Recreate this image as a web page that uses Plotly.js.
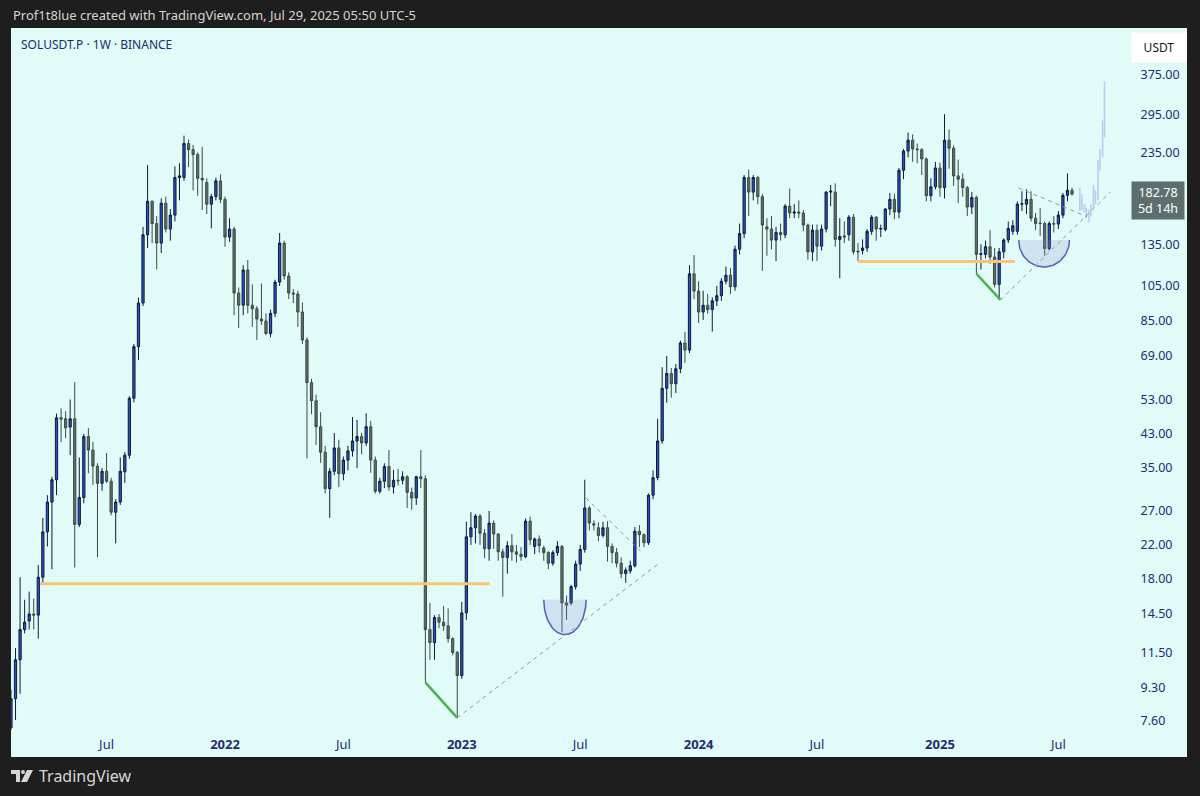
<!DOCTYPE html>
<html><head><meta charset="utf-8">
<script src="https://cdn.plot.ly/plotly-3.0.1.min.js"></script>
<style>
html,body{margin:0;padding:0;background:#1e1e1e;width:1200px;height:796px;overflow:hidden;}
#panel{position:absolute;left:11px;top:28px;width:1176px;height:729px;background:#e0fbf8;}
#chart{position:absolute;left:0;top:0;width:1200px;height:796px;}
#logo{position:absolute;left:11px;top:768px;}
</style></head><body>
<div id="panel"></div>
<div id="chart"></div>
<svg id="logo" width="24" height="16" viewBox="0 0 24 16">
  <path d="M0 2 H9 V14 H5 V6 H0 Z" fill="#d6d6d6"/>
  <circle cx="12" cy="4" r="2" fill="#d6d6d6"/>
  <path d="M16 2 H22 L16 14 H10 Z" fill="#d6d6d6"/>
</svg>
<script>
// ---------- weekly OHLC (SOLUSDT.P, 1W) ----------
const firstWeek = '2021-02-08';
const openP = [
 7.3,8.7,11.0,13.2,13.9,14.5,14.4,18.1,23.8,28.5,
 32.6,47.4,47.1,44.8,47.1,24.9,29.3,42.3,39.0,35.4,
 31.9,34.3,32.3,26.8,28.5,34.2,37.8,53.3,72.8,94.7,
 143,175,153,136,173,148,161,202,202,248,
 239,232,201,196,172,180,198,177,141,148,
 100.6,93.5,115.6,93.5,91.5,86,85,78.8,89,107.5,
 136,111.5,100.6,100,89.7,75.8,58.6,52.5,44.9,38.5,
 30.9,34.3,39.5,33.8,36.7,38.8,41.2,42.3,40.7,44.9,
 36.7,30.4,32.3,35.3,31.2,32.5,32.5,33.2,30.2,29.2,
 33.2,32.8,13.2,12.2,14.2,13.8,13.5,12.5,11.5,10.0,
 14.6,23.1,24.4,26.2,23.6,21.5,25.1,23.5,21.1,20.4,
 21.9,21.1,20.8,20.5,25.4,21.8,22.8,21.6,21.0,19.7,
 21.0,21.8,15.5,15.5,17.1,19.6,21.4,27.5,25.0,24.4,
 23.3,24.4,21.8,21.0,19.7,18.5,18.8,19.4,23.9,23.4,
 22.3,29.7,33,41.2,56.6,61.9,58.2,63.7,74.4,71.3,
 113,101.8,89.7,93.4,91,96,99,108,112,104.5,
 131,144,202,185,202,180,150,148,138.5,145,
 143,170,163,164,163,151.6,129,147,133.5,148,
 185,185,139,142,143,159,129.5,130,132,146,
 159,148,147.5,167,177,164,211,237,253,240,
 239,226,181,191,214,190,253,241,204,200,
 190,169,179,127,127,133,125,106,129,138.5,
 146,146,172,172,177,158,153.5,153,131.6,153,
 152.5,161,181.4,187
];
const highP = [
 9.2,11.8,18.1,15.8,16.6,15.9,19.5,25.9,29.7,33.2,
 48.6,50.2,49.3,52.9,58.8,37.3,43.0,44.5,41.0,36.0,
 35.0,38.3,33.0,29.0,37.3,38.5,54.0,74.0,97.8,150,
 218,176,160,178,180,167,216,220,260,254,
 246,235,243,201,183,202,206,180,158,150,
 104,119,122.8,106,93,106.5,89,91,109,144.5,
 138,114,103,102,95,77,60,54.5,49,40,
 35,43.2,41.5,37.5,40,47.6,46.8,43.3,48.7,46.5,
 37.5,33,36,39,34.6,34.8,34.3,33.5,31.1,33.4,
 39,33.5,15.5,14.4,14.5,15.2,15,12.6,11.6,15.6,
 25.3,26.8,26.5,26.5,24.2,27.0,25.5,23.6,21.5,22.5,
 23.5,22,21.7,25.8,26.1,23,23.3,21.9,21.2,21.3,
 22.5,22,16.2,17.3,20,22,32.6,27.8,25.5,25.2,
 25.3,25.4,22.2,21.6,20.4,19.2,20,24.5,24.8,23.6,
 30,34.5,47.1,64.3,68.8,64,65.5,75.5,79.6,119,
 126.5,108,102,100,98,105,110,118,117,134,
 153,205,212,205,204,183,158,160,150,153,
 172,189,172,176,166,153,152,152,152,186,
 193,195,158,155,161,162,136,139,148,161,
 160,152,168,184,183,214,240,265,262,248,
 241,228,201,222,221,296,270,245,225,207,
 192,185,181,135,138,147,132,132,140,155,
 156,175,186,188,186,163,168,155,155,160,
 165,184,207,190
];
const lowP = [
 7.0,7.65,8.96,12.9,13.2,13.2,12.5,17.5,21.8,19.0,
 29.7,40.9,41.9,37.8,19.2,24.5,28.3,33.9,31.6,20.4,
 30.5,32.0,26.3,22.2,28.0,32.0,37.0,52.0,67.1,93.0,
 132,136,116,128,145,138,155,176,198,215,
 187,181,166,162,148.6,176,173,133,137,88,
 81.5,88,89,82,75.8,83,78,77,87,105,
 109,97,94.7,82,74,37.1,48.4,40.2,36.1,30,
 25.9,33.5,31.2,32.5,34.5,37.5,35,38,40,34,
 30,30,31,30.5,30,31.5,31.7,27.5,27.2,28,
 31,9.6,11,11,13.3,13.1,12.2,11.3,7.75,9.8,
 14,22,22.2,22,20.3,20,21.5,20,16.1,18.5,
 20,19.8,20,20.3,22,20.8,21,20,19,19.4,
 20.6,13.0,14,15.3,16.8,18.8,21,24,24,22.5,
 23,19.9,19.7,19.2,18.0,17.5,18.5,19.2,21.7,21.7,
 22,29,32.5,40.5,51.9,53.5,55,62,66,70,
 97,84,85.5,88.8,79.7,93,96,106,100,102,
 127,140,160,176,172,115,126,131,122,138,
 140,158,158,158,146,123,122,122,130,145,
 170,133,110,136,138,127,122,127,129,143,
 138,141,146,161,157,158,200,228,222,220,
 205,175,175,188,180,178,213,192,173,180,
 160,162,113,116,124,120,104,96.5,124,136,
 143,143,165,162,155,147,142,126,130,145,
 148,158,175,181
];
const closeP = [
 8.7,11.0,13.2,13.8,14.5,14.4,18.1,23.8,28.5,32.6,
 47.4,47.0,44.6,47.1,24.9,29.3,42.3,39.0,35.4,31.9,
 34.3,32.3,26.8,28.5,34.3,37.8,53.3,72.8,94.7,143,
 175,153,136,173,148,161,202,204,248,239,
 232,201,199,172,180,198,177,141,148,100.6,
 93.5,115.6,93.5,91.5,86,85,78.8,89,107.5,136,
 111.5,100.6,100,89.7,75.8,58.6,52.5,44.9,38.5,30.9,
 34.3,39.5,33.8,36.7,38.8,41.2,42.3,40.7,44.9,36.7,
 30.4,32.3,35.3,31.2,32.5,32.4,33.2,30.2,29.2,33.2,
 32.8,13.2,12.2,14.2,13.8,13.5,12.5,11.5,10.0,14.6,
 23.1,24.4,26.2,23.6,21.5,25.1,23.5,21.1,20.4,21.9,
 21.1,20.8,20.5,25.4,22.7,22.8,21.9,21.0,19.7,21.0,
 21.8,15.5,15.3,17.1,19.6,21.4,27.5,25.1,24.8,23.3,
 24.4,21.8,21.0,19.7,18.5,18.9,19.4,23.9,23.4,22.3,
 29.7,33,41.2,56.6,61.9,58.2,63.7,74.4,71.3,113,
 101.8,89.7,93.4,91,96,99,108,112,104.5,131,
 144,202,185,202,180,151.6,148,138.5,145,143,
 170,163,164,163,151.6,129,147,133.5,148,185,
 186,139,141.5,141,159,129,129,132,146,159,
 148,148.5,167,177,164,211,237,253,240,239,
 226,181,191,214,190,253,241,204,200,190,
 169,179,127,127.5,133,125,106,129,138.5,148.6,
 151,172,172.5,177,158,153,153,131.6,153,152.5,
 161,181.4,187,182.78
];

// ---------- projected (ghost) bars pattern ----------
const ghostDates = ['2025-08-09','2025-08-12','2025-08-16','2025-08-19','2025-08-23','2025-08-26',
                    '2025-08-30','2025-09-02','2025-09-06','2025-09-09','2025-09-13','2025-09-16'];
const ghostOpen  = [185,168,172,166,160,163,170,186,176,220,235,280];
const ghostHigh  = [190,183,172,168,166,172,193,187,224,240,285,360];
const ghostLow   = [165,166,164,158,154,160,168,172,176,211,228,257];
const ghostClose = [168,180,166,160,163,170,188,175,220,235,280,355];

// ---------- axis ticks ----------
const priceTicks = [375,295,235,135,105,85,69,53,43,35,27,22,18,14.5,11.5,9.3,7.6];
const priceTickText = ['375.00','295.00','235.00','135.00','105.00','85.00','69.00','53.00','43.00','35.00','27.00','22.00','18.00','14.50','11.50','9.30','7.60'];
const timeTicks = ['2021-07-05','2022-01-03','2022-07-04','2023-01-02','2023-07-03','2024-01-01','2024-07-01','2025-01-06','2025-07-07'];
const timeTickText = ['Jul','<b>2022</b>','Jul','<b>2023</b>','Jul','<b>2024</b>','Jul','<b>2025</b>','Jul'];
const lastPrice = 182.78;

// ---------- drawings (date, price) ----------
const orange1Dates = ['2021-03-25','2023-02-14'];  const orange1Price = [17.4,17.4];
const orange2Dates = ['2024-09-02','2025-05-01'];  const orange2Price = [121.7,121.7];
const green1Dates  = ['2022-11-07','2022-12-26'];  const green1Price  = [9.6,7.75];
const green2Dates  = ['2025-03-03','2025-04-09'];  const green2Price  = [113,96.5];
const trend1Dates  = ['2022-12-26','2023-11-03'];  const trend1Price  = [7.75,19.8];
const trend2Dates  = ['2023-07-12','2023-10-05'];  const trend2Price  = [29.2,21.1];
const trend3Dates  = ['2025-04-09','2025-09-25'];  const trend3Price  = [96.5,185];
const trend4Dates  = ['2025-05-07','2025-08-20'];  const trend4Price  = [189.6,159.5];
const cup1 = ['2023-05-08','2023-07-12', 15.8, 12.8];
const cup2 = ['2025-05-07','2025-07-24', 138.5, 117.7];

function weeklyDates(start, n){
  const t0 = Date.parse(start + 'T00:00:00Z');
  const out = [];
  for(let i=0;i<n;i++) out.push(new Date(t0 + i*7*86400000).toISOString().slice(0,10));
  return out;
}
function cupPath(spec){
  const t0 = Date.parse(spec[0]+'T00:00:00Z'), t1 = Date.parse(spec[1]+'T00:00:00Z');
  const c=(t0+t1)/2, a=(t1-t0)/2, lt=Math.log(spec[2]), lb=Math.log(spec[3]);
  const xs=[], ys=[];
  for(let k=0;k<=48;k++){
    const th=Math.PI*k/48;
    xs.push(new Date(c - a*Math.cos(th)).toISOString());
    ys.push(Math.exp(lt-(lt-lb)*Math.sin(th)));
  }
  return {x:xs,y:ys};
}

const dates = weeklyDates(firstWeek, closeP.length);

const traces = [];
traces.push({
  type:'candlestick', x:dates, open:openP, high:highP, low:lowP, close:closeP,
  increasing:{line:{color:'#101a33',width:1}, fillcolor:'#2453d6'},
  decreasing:{line:{color:'#3d4a46',width:1}, fillcolor:'#5f6f6a'},
  whiskerwidth:0, hoverinfo:'skip', showlegend:false
});
traces.push({
  type:'ohlc', x:ghostDates, open:ghostOpen, high:ghostHigh, low:ghostLow, close:ghostClose,
  increasing:{line:{color:'rgba(165,192,236,0.75)',width:1.6}},
  decreasing:{line:{color:'rgba(165,192,236,0.75)',width:1.6}},
  tickwidth:0.15, hoverinfo:'skip', showlegend:false
});
function line(x,y,color,width,dash){
  traces.push({type:'scatter',mode:'lines',x:x,y:y,line:{color:color,width:width,dash:dash||'solid'},hoverinfo:'skip',showlegend:false});
}
[cup1,cup2].forEach(function(spec){
  const p = cupPath(spec);
  traces.push({type:'scatter',mode:'lines',x:p.x.concat([p.x[0]]),y:p.y.concat([p.y[0]]),fill:'toself',
    fillcolor:'rgba(140,140,210,0.22)',line:{width:0,color:'rgba(0,0,0,0)'},hoverinfo:'skip',showlegend:false});
  line(p.x,p.y,'#5a5fb2',1.5);
});
line(orange1Dates,orange1Price,'#f6c575',3);
line(orange2Dates,orange2Price,'#f6c575',3);
line(green1Dates,green1Price,'#4caf50',2.5);
line(green2Dates,green2Price,'#4caf50',2.5);
line(trend1Dates,trend1Price,'#8e9c9c',1,'4px,4px');
line(trend2Dates,trend2Price,'#8e9c9c',1,'4px,4px');
line(trend3Dates,trend3Price,'#8e9c9c',1,'4px,4px');
line(trend4Dates,trend4Price,'#8e9c9c',1,'4px,4px');

const PL=11, PR=1127, PT=28, PB=730;
function px(x){return (x-PL)/(PR-PL);}
function py(y){return (PB-y)/(PB-PT);}
const F='Noto Sans, Open Sans, sans-serif';

const layout = {
  width:1200, height:796,
  margin:{l:PL, r:1200-PR, t:PT, b:796-PB, pad:0},
  paper_bgcolor:'rgba(0,0,0,0)', plot_bgcolor:'rgba(0,0,0,0)',
  showlegend:false, boxgap:0.3,
  font:{family:F},
  xaxis:{type:'date', range:['2021-02-08 01:26','2025-10-20 12:00'],
    rangeslider:{visible:false}, showgrid:false, zeroline:false, showline:false,
    tickmode:'array', tickvals:timeTicks, ticktext:timeTickText,
    ticks:'outside', ticklen:2, tickcolor:'rgba(0,0,0,0)',
    tickfont:{family:F,size:13,color:'#1e2d6e'}, fixedrange:true},
  yaxis:{type:'log', side:'right', range:[Math.log10(7.2), Math.log10(498)],
    showgrid:false, zeroline:false, showline:false,
    tickmode:'array', tickvals:priceTicks, ticktext:priceTickText,
    ticks:'outside', ticklen:10, tickcolor:'rgba(0,0,0,0)',
    tickfont:{family:F,size:12.5,color:'#1e2d6e'}, fixedrange:true},
  annotations:[
    {xref:'paper',yref:'paper',x:px(11),y:py(15),xanchor:'left',yanchor:'middle',showarrow:false,
     text:'Prof1t8lue created with TradingView.com, Jul 29, 2025 05:50 UTC-5',font:{family:F,size:13,color:'#d4d4d4'}},
    {xref:'paper',yref:'paper',x:px(19),y:py(45),xanchor:'left',yanchor:'middle',showarrow:false,
     text:'SOLUSDT.P · 1W · BINANCE',font:{family:F,size:12,color:'#1b2d6e'}},
    {xref:'paper',yref:'paper',x:px(1159),y:py(47),xanchor:'center',yanchor:'middle',showarrow:false,
     text:'USDT',font:{family:F,size:12,color:'#131722'},bgcolor:'#ffffff',borderpad:6,width:42},
    {xref:'paper',yref:'paper',x:px(1158),y:py(200.5),xanchor:'center',yanchor:'middle',showarrow:false,
     text:lastPrice.toFixed(2)+'<br>5d 14h',font:{family:F,size:12.5,color:'#ffffff'},bgcolor:'#5c6e6e',borderpad:2,width:48,align:'center'},
    {xref:'paper',yref:'paper',x:px(37),y:py(776),xanchor:'left',yanchor:'middle',showarrow:false,
     text:'TradingView',font:{family:F,size:16,color:'#d6d6d6'}}
  ]
};
Plotly.newPlot('chart', traces, layout, {displayModeBar:false, staticPlot:true});
</script>
</body></html>
